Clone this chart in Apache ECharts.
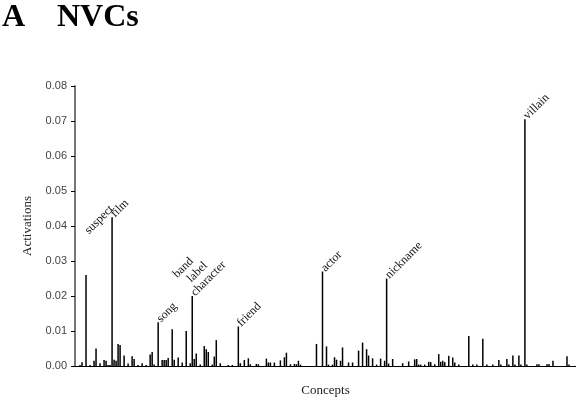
<!DOCTYPE html>
<html>
<head>
<meta charset="utf-8">
<script src="https://cdn.jsdelivr.net/npm/echarts@6/dist/echarts.min.js"></script>
<style>
  html, body { margin: 0; padding: 0; background: #fff; }
  #chart { width: 576px; height: 398px; }
</style>
</head>
<body>
<div id="chart"></div>
<script>
// activation per concept (250 concepts)
const activations = [
  0, 0, 0.0003, 0.0011, 0, 0.026, 0, 0.0003, 0, 0.0015,
  0.005, 0, 0.0008, 0, 0.0017, 0.0015, 0.0003, 0.0003, 0.0425, 0.0018,
  0.0015, 0.0063, 0.006, 0, 0.003, 0, 0.0007, 0, 0.0028, 0.002,
  0, 0.0003, 0, 0.0008, 0, 0.0003, 0, 0.0033, 0.004, 0.0004,
  0, 0.0125, 0, 0.0017, 0.0017, 0.0017, 0.0023, 0, 0.0105, 0.0018,
  0, 0.0024, 0, 0.001, 0, 0.01, 0, 0.0008, 0.02, 0.002,
  0.0036, 0, 0.0004, 0, 0.0057, 0.0048, 0.004, 0, 0.0004, 0.0027,
  0.0074, 0, 0.0008, 0, 0, 0, 0.0003, 0, 0.0003, 0,
  0, 0.0113, 0.0008, 0, 0.0017, 0, 0.0022, 0.0005, 0, 0,
  0.0006, 0.0005, 0, 0, 0, 0.0021, 0.001, 0.001, 0, 0.001,
  0, 0, 0.0016, 0, 0.0025, 0.0038, 0, 0.0005, 0, 0.0006,
  0.0005, 0.0015, 0.0004, 0, 0, 0, 0, 0, 0, 0,
  0.0063, 0, 0, 0.027, 0, 0.0056, 0.0004, 0, 0.0004, 0.0025,
  0.0018, 0, 0.0015, 0.0053, 0, 0, 0.001, 0, 0.001, 0,
  0, 0.0044, 0, 0.0067, 0, 0.0048, 0.003, 0, 0.0022, 0,
  0.0004, 0, 0.0021, 0, 0.0015, 0.025, 0.0007, 0, 0.002, 0,
  0, 0, 0, 0.0008, 0, 0, 0.0013, 0, 0, 0.0019,
  0.002, 0.0004, 0.0004, 0, 0.0004, 0, 0.0012, 0.0011, 0, 0.0005,
  0, 0.0034, 0.0012, 0.0015, 0.0011, 0, 0.0029, 0, 0.0024, 0.001,
  0, 0.0004, 0, 0, 0, 0, 0.0086, 0, 0.0004, 0,
  0.0004, 0, 0, 0.0078, 0, 0.0004, 0, 0, 0.0004, 0,
  0, 0.0017, 0.0004, 0, 0, 0.002, 0.0004, 0, 0.003, 0.0004,
  0, 0.003, 0.0004, 0, 0.0705, 0.0004, 0, 0, 0, 0,
  0.0005, 0.0005, 0, 0, 0, 0.0005, 0.0006, 0, 0.0015, 0,
  0, 0, 0, 0, 0, 0.0028, 0.0004, 0, 0, 0
];

// named concepts: index into activations
const labelIndex = [5, 18, 41, 48, 55, 58, 81, 123, 155, 224];
const labelNames = ['suspect', 'film', 'song', 'band', 'label', 'character', 'friend', 'actor', 'nickname', 'villain'];
// label nudges (px, in the rotated label frame) so crowded names do not overlap
const labelOffsets = [[30, -29], [1, 0], [1, 0], [39, -35], [37, -33], [1, 0], [1, 0], [1, 0], [1, 0], [1, 0]];

const yTicks = [0, 0.01, 0.02, 0.03, 0.04, 0.05, 0.06, 0.07, 0.08];

const serif = '"Liberation Serif", "DejaVu Serif", serif';
const sans = '"Liberation Sans", "DejaVu Sans", sans-serif';

const categories = activations.map((_, i) => 'c' + i);
const seriesData = activations.map((v, i) => {
  const k = labelIndex.indexOf(i);
  if (k < 0) return v;
  return {
    value: v,
    label: {
      show: true,
      formatter: labelNames[k],
      position: 'top',
      distance: 1,
      rotate: 45,
      align: 'left',
      verticalAlign: 'middle',
      offset: labelOffsets[k],
      fontFamily: serif,
      fontSize: 12,
      color: '#111'
    }
  };
});

const chart = echarts.init(document.getElementById('chart'), null, { renderer: 'canvas' });

const titleStyle = { fontFamily: serif, fontWeight: 'bold', fontSize: 32, color: '#000' };

chart.setOption({
  animation: false,
  title: [
    { text: 'A', left: 2, top: 2, padding: 0, textStyle: titleStyle },
    { text: 'NVCs', left: 57, top: 2, padding: 0, textStyle: titleStyle }
  ],
  grid: { left: 75, right: 0, top: 86, bottom: 32, containLabel: false, outerBoundsMode: 'none' },
  xAxis: {
    type: 'category',
    data: categories,
    name: 'Concepts',
    nameLocation: 'middle',
    nameGap: 18,
    nameTextStyle: { fontFamily: serif, fontSize: 13, color: '#222' },
    axisLine: { lineStyle: { color: '#000', width: 1 } },
    axisTick: { show: false },
    axisLabel: { show: false }
  },
  yAxis: {
    type: 'value',
    min: yTicks[0],
    max: yTicks[yTicks.length - 1],
    interval: 0.01,
    name: 'Activations',
    nameLocation: 'middle',
    nameGap: 41,
    nameTextStyle: { fontFamily: serif, fontSize: 13, color: '#222' },
    axisLine: { show: true, lineStyle: { color: '#777', width: 2 } },
    axisTick: { show: true, length: 4, lineStyle: { color: '#000' } },
    axisLabel: {
      fontFamily: sans,
      fontSize: 11,
      color: '#444',
      margin: 8,
      formatter: v => v.toFixed(2)
    },
    splitLine: { show: false }
  },
  series: [{
    type: 'bar',
    data: seriesData,
    barWidth: 1.5,
    itemStyle: { color: '#000' }
  }]
});
</script>
</body>
</html>
